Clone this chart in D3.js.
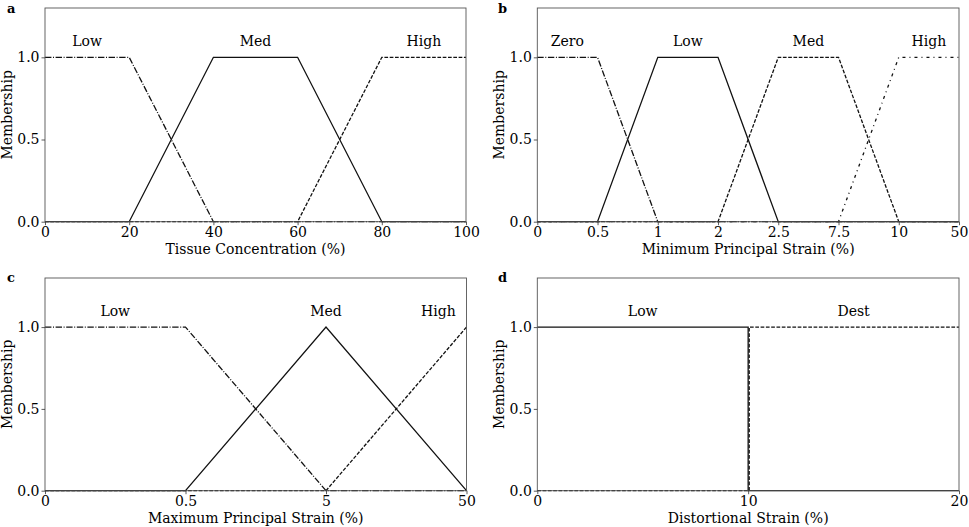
<!DOCTYPE html>
<html>
<head>
<meta charset="utf-8">
<script src="https://cdn.jsdelivr.net/npm/d3@7"></script>
<style>
  body { margin: 0; background: #fff; }
  text { font-family: "DejaVu Serif", serif; fill: #000; }
</style>
</head>
<body>
<div id="chart"></div>
<script>
// ---- data ----
const yTicks = [0, 0.5, 1.0];

// panel a: Tissue Concentration (%)
const aTicks = [0, 20, 40, 60, 80, 100];
const aLow  = [[0, 1], [20, 1], [40, 0], [100, 0]];
const aMed  = [[0, 0], [20, 0], [40, 1], [60, 1], [80, 0], [100, 0]];
const aHigh = [[0, 0], [60, 0], [80, 1], [100, 1]];
const aNames = [["Low", 10], ["Med", 50], ["High", 90]];

// panel b: Minimum Principal Strain (%) - evenly spaced tick labels
const bTicks = ["0", "0.5", "1", "2", "2.5", "7.5", "10", "50"];
const bZero = [["0", 1], ["0.5", 1], ["1", 0], ["50", 0]];
const bLow  = [["0", 0], ["0.5", 0], ["1", 1], ["2", 1], ["2.5", 0], ["50", 0]];
const bMed  = [["0", 0], ["2", 0], ["2.5", 1], ["7.5", 1], ["10", 0], ["50", 0]];
const bHigh = [["0", 0], ["7.5", 0], ["10", 1], ["50", 1]];
const bNames = [["Zero", 0.5], ["Low", 2.5], ["Med", 4.5], ["High", 6.5]];

// panel c: Maximum Principal Strain (%)
const cTicks = ["0", "0.5", "5", "50"];
const cLow  = [["0", 1], ["0.5", 1], ["5", 0], ["50", 0]];
const cMed  = [["0", 0], ["0.5", 0], ["5", 1], ["50", 0]];
const cHigh = [["0", 0], ["5", 0], ["50", 1]];
const cNames = [["Low", 0.5], ["Med", 2.0], ["High", 2.8]];

// panel d: Distortional Strain (%)
const dTicks = [0, 10, 20];
const dLow  = [[0, 1], [10, 1], [10, 0], [20, 0]];
const dDest = [[0, 0], [10.05, 0], [10.05, 1], [20, 1]];
const dNames = [["Low", 5], ["Dest", 15]];

const dashdot = "6.4,1.6,1,1.6";
const dashed = "3.7,1.6";
const loosedot = "3,4,1,4";

const W = 969, H = 527;
const svg = d3.select("#chart").append("svg").attr("width", W).attr("height", H);

function panel(opts) {
  const { box, letter, letterPos, xlabel, series, names, ticks, categorical, domain } = opts;
  const g = svg.append("g");
  let x, nameX;
  if (categorical) {
    x = d3.scalePoint().domain(ticks).range([box.l, box.r]).padding(0);
    const xi = d3.scaleLinear().domain([0, ticks.length - 1]).range([box.l, box.r]);
    nameX = v => xi(v);
  } else {
    x = d3.scaleLinear().domain(domain).range([box.l, box.r]);
    nameX = v => x(v);
  }
  const y = d3.scaleLinear().domain([0, 1.3]).range([box.b, box.t]);

  // curves
  const line = d3.line().x(d => x(d[0])).y(d => y(d[1]));
  series.forEach(s => {
    g.append("path").datum(s.data)
      .attr("fill", "none").attr("stroke", "#111")
      .attr("stroke-width", 1.3)
      .attr("stroke-dasharray", s.dash || null)
      .attr("d", line);
  });

  // frame
  g.append("rect").attr("x", box.l).attr("y", box.t)
    .attr("width", box.r - box.l).attr("height", box.b - box.t)
    .attr("fill", "none").attr("stroke", "#555").attr("stroke-width", 0.9);

  // axes
  const xa = g.append("g").attr("transform", `translate(0,${box.b})`)
    .call(d3.axisBottom(x).tickValues(ticks).tickSize(3.5).tickPadding(2).tickFormat(d => d));
  const ya = g.append("g").attr("transform", `translate(${box.l},0)`)
    .call(d3.axisLeft(y).tickValues(yTicks).tickSize(3.5).tickPadding(2).tickFormat(d3.format(".1f")));
  [xa, ya].forEach(a => {
    a.select(".domain").remove();
    a.selectAll("line").attr("stroke", "#333").attr("stroke-width", 0.8);
    a.selectAll("text").style("font-family", "DejaVu Serif").style("font-size", "14px").attr("fill", "#000");
  });

  // names
  names.forEach(n => {
    g.append("text").attr("x", nameX(n[1])).attr("y", y(1.1))
      .attr("text-anchor", "middle").attr("dominant-baseline", "central")
      .style("font-size", "14px").text(n[0]);
  });

  // axis labels
  g.append("text").attr("x", (box.l + box.r) / 2).attr("y", box.b + 32)
    .attr("text-anchor", "middle").style("font-size", "14px").text(xlabel);
  g.append("text")
    .attr("transform", `translate(${box.l - 38},${(box.t + box.b) / 2}) rotate(-90)`)
    .attr("text-anchor", "middle").attr("dominant-baseline", "central")
    .style("font-size", "14px").text("Membership");

  g.append("text").attr("x", letterPos[0]).attr("y", letterPos[1])
    .style("font-size", "13px").style("font-weight", "bold").text(letter);
}

panel({
  box: { l: 45, r: 466, t: 8, b: 221.7 }, letter: "a", letterPos: [7, 13],
  xlabel: "Tissue Concentration (%)", ticks: aTicks, domain: [0, 100],
  names: aNames,
  series: [{ data: aLow, dash: dashdot }, { data: aHigh, dash: dashed }, { data: aMed }]
});
panel({
  box: { l: 537.3, r: 959, t: 8, b: 221.7 }, letter: "b", letterPos: [498, 13],
  xlabel: "Minimum Principal Strain (%)", ticks: bTicks, categorical: true,
  names: bNames,
  series: [{ data: bZero, dash: dashdot }, { data: bMed, dash: dashed },
           { data: bHigh, dash: loosedot }, { data: bLow }]
});
panel({
  box: { l: 45, r: 466.5, t: 278, b: 490.7 }, letter: "c", letterPos: [7, 282],
  xlabel: "Maximum Principal Strain (%)", ticks: cTicks, categorical: true,
  names: cNames,
  series: [{ data: cLow, dash: dashdot }, { data: cHigh, dash: dashed }, { data: cMed }]
});
panel({
  box: { l: 537.3, r: 959, t: 278, b: 490.7 }, letter: "d", letterPos: [498, 282],
  xlabel: "Distortional Strain (%)", ticks: dTicks, domain: [0, 20],
  names: dNames,
  series: [{ data: dDest, dash: dashed }, { data: dLow }]
});
</script>
</body>
</html>
